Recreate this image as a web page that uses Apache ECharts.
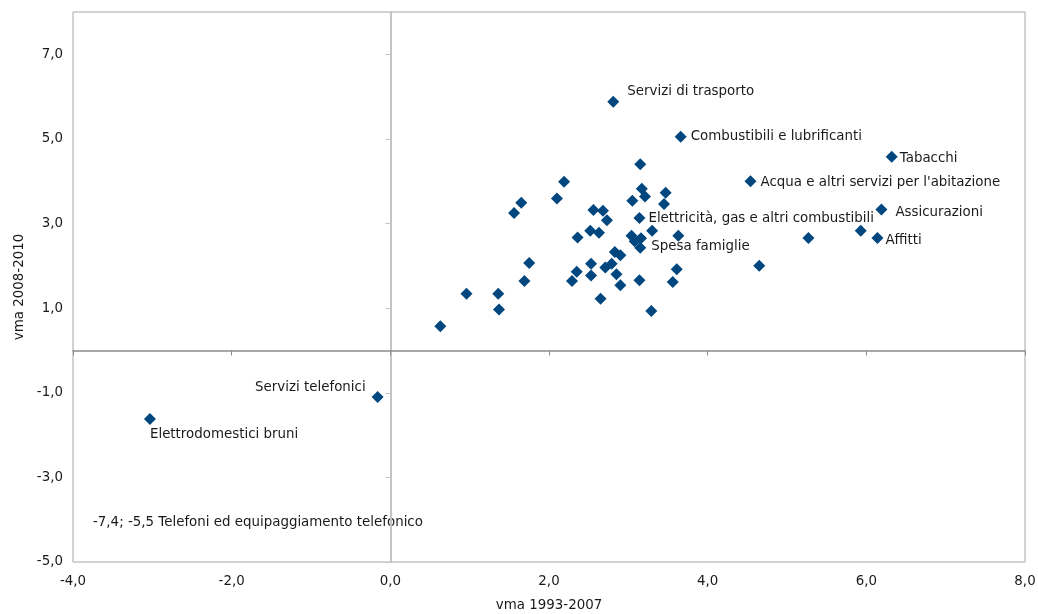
<!DOCTYPE html>
<html><head><meta charset="utf-8">
<script src="https://cdn.jsdelivr.net/npm/echarts@6/dist/echarts.min.js"></script>
<style>html,body{margin:0;padding:0;background:#fff}#c{width:1038px;height:614px}</style>
</head><body><div id="c"></div>
<script>
// ---- data ----
const xValues = [2.81, 3.66, 6.32, 4.54, 6.19, 6.14, 5.93, 5.27, 4.65, 3.15,
  2.19, 2.10, 1.65, 1.56, 3.17, 3.21, 3.05, 3.47, 3.45, 2.56,
  2.68, 2.73, 3.14, 2.52, 2.63, 3.30, 2.36, 3.04, 3.16, 3.63,
  3.08, 3.15, 2.83, 2.90, 1.75, 2.35, 2.53, 2.71, 2.79, 3.61,
  2.85, 2.53, 1.69, 2.29, 3.14, 3.56, 2.90, 0.96, 1.36, 1.37,
  2.65, 3.29, 0.63, -0.16, -3.03];
const yValues = [5.88, 5.05, 4.58, 4.00, 3.33, 2.66, 2.83, 2.66, 2.00, 4.40,
  3.99, 3.59, 3.49, 3.25, 3.82, 3.64, 3.54, 3.73, 3.46, 3.32,
  3.30, 3.08, 3.13, 2.83, 2.78, 2.83, 2.67, 2.71, 2.65, 2.71,
  2.58, 2.43, 2.33, 2.25, 2.07, 1.86, 2.05, 1.96, 2.05, 1.92,
  1.80, 1.77, 1.64, 1.64, 1.66, 1.62, 1.54, 1.34, 1.34, 0.97,
  1.22, 0.93, 0.57, -1.10, -1.62];
const pointNames = ['Servizi di trasporto', 'Combustibili e lubrificanti', 'Tabacchi',
  "Acqua e altri servizi per l'abitazione", 'Assicurazioni', 'Affitti', '', '', '', '',
  '', '', '', '', '', '', '', '', '', '',
  '', '', 'Elettricità, gas e altri combustibili', '', '', '', '', '', '', '',
  '', 'Spesa famiglie', '', '', '', '', '', '', '', '',
  '', '', '', '', '', '', '', '', '', '',
  '', '', '', 'Servizi telefonici', 'Elettrodomestici bruni'];
const xTicks = [-4, -2, 0, 2, 4, 6, 8];
const yTicks = [-5, -3, -1, 1, 3, 5, 7];
const xTitle = 'vma 1993-2007';
const yTitle = 'vma 2008-2010';
const offChartNote = '-7,4; -5,5 Telefoni ed equipaggiamento telefonico';

// ---- styling ----
const FONT = 'DejaVu Sans';
const TXT = '#1a1a1a';
const FS = 13.4;
const labelPlacement = {
  'Servizi di trasporto': {position: 'right', distance: 8, offset: [0, -10]},
  'Combustibili e lubrificanti': {position: 'right', distance: 4, offset: [0, 0]},
  'Tabacchi': {position: 'right', distance: 2, offset: [0, 2]},
  "Acqua e altri servizi per l'abitazione": {position: 'right', distance: 4, offset: [0, 1]},
  'Assicurazioni': {position: 'right', distance: 8, offset: [0, 3]},
  'Affitti': {position: 'right', distance: 2, offset: [0, 3]},
  'Elettricità, gas e altri combustibili': {position: 'right', distance: 3, offset: [0, 0]},
  'Spesa famiglie': {position: 'right', distance: 5, offset: [0, -1]},
  'Servizi telefonici': {position: 'left', distance: 6, offset: [0, -9]},
  'Elettrodomestici bruni': {position: 'bottom', distance: 3, align: 'left', offset: [0, 0]}
};
const fmt = v => v.toFixed(1).replace('.', ',');

const data = xValues.map((x, i) => {
  const n = pointNames[i];
  const item = {value: [x, yValues[i]], name: n};
  if (n && labelPlacement[n]) {
    item.label = Object.assign({show: true, formatter: '{b}', color: TXT,
      fontFamily: FONT, fontSize: FS}, labelPlacement[n]);
  }
  return item;
});

const chart = echarts.init(document.getElementById('c'), null, {renderer: 'canvas'});
chart.setOption({
  animation: false,
  backgroundColor: '#fff',
  grid: {left: 73, right: 13, top: 12, bottom: 52, show: true, containLabel: false,
    outerBoundsMode: 'none',
    borderColor: '#a6a6a6', borderWidth: 1, backgroundColor: 'transparent'},
  xAxis: [
    {type: 'value', min: -4, max: 8, interval: 2, position: 'bottom',
      axisLine: {show: false, onZero: false}, axisTick: {show: false}, splitLine: {show: false},
      axisLabel: {customValues: xTicks, formatter: fmt, margin: 13, color: TXT, fontFamily: FONT, fontSize: FS},
      name: xTitle, nameLocation: 'middle', nameGap: 37,
      nameTextStyle: {color: TXT, fontFamily: FONT, fontSize: FS}},
    {type: 'value', min: -4, max: 8, interval: 2, position: 'bottom',
      axisLine: {show: true, onZero: true, lineStyle: {color: '#8c8c8c', width: 1.5}},
      axisTick: {show: true, customValues: xTicks, length: 5, lineStyle: {color: '#8c8c8c'}},
      axisLabel: {show: false}, splitLine: {show: false}}
  ],
  yAxis: [
    {type: 'value', min: -5, max: 8, interval: 2, position: 'left',
      axisLine: {show: false, onZero: false}, axisTick: {show: false}, splitLine: {show: false},
      axisLabel: {customValues: yTicks, formatter: fmt, margin: 10, color: TXT, fontFamily: FONT, fontSize: FS},
      name: yTitle, nameLocation: 'middle', nameGap: 47,
      nameTextStyle: {color: TXT, fontFamily: FONT, fontSize: FS}},
    {type: 'value', min: -5, max: 8, interval: 2, position: 'left',
      axisLine: {show: true, onZero: true, lineStyle: {color: '#c4c4c4', width: 2}},
      axisTick: {show: true, customValues: yTicks, length: 5, lineStyle: {color: '#c4c4c4'}},
      axisLabel: {show: false}, splitLine: {show: false}}
  ],
  graphic: [{type: 'text', left: 93, top: 516, silent: true,
    style: {text: offChartNote, fill: TXT, font: FS + 'px "DejaVu Sans"'}}],
  series: [{
    type: 'scatter', xAxisIndex: 0, yAxisIndex: 0,
    symbol: 'diamond', symbolSize: 12,
    itemStyle: {color: '#00467f', opacity: 1},
    data: data
  }]
});
</script></body></html>
